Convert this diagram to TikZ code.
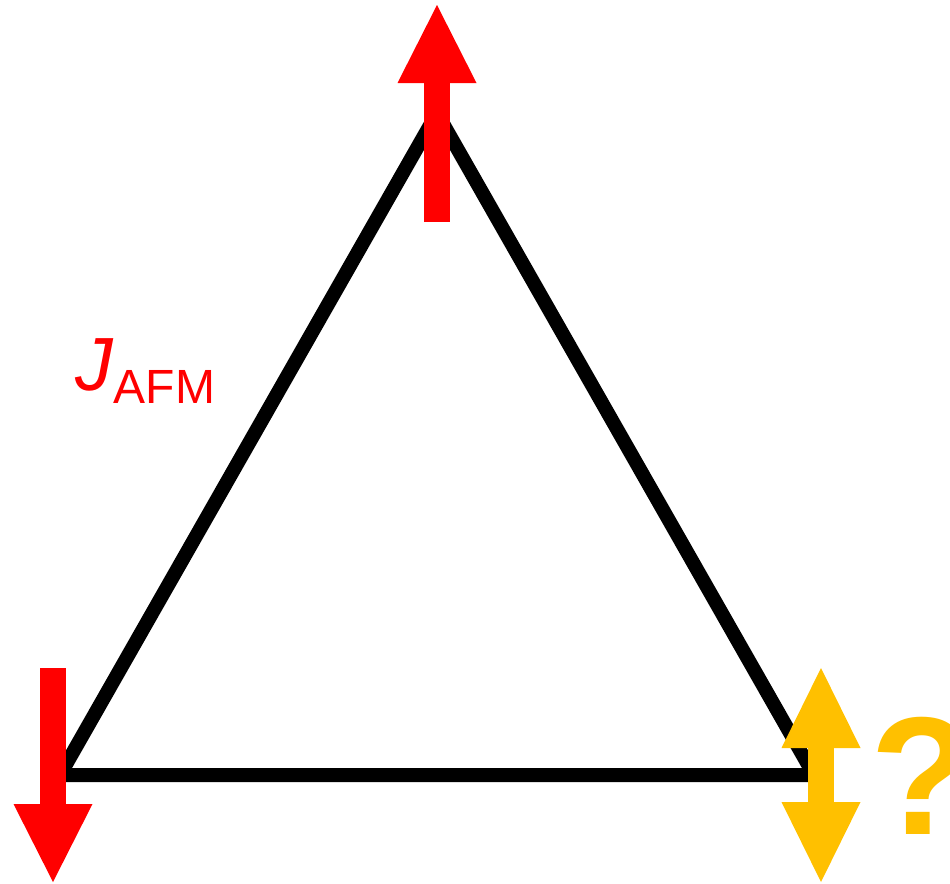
\documentclass[tikz,border=0pt]{standalone}
\usepackage{fontspec}
\setmainfont{Liberation Sans}
\usetikzlibrary{arrows.meta, calc}

\definecolor{spinred}{HTML}{FF0000}
\definecolor{spinamber}{HTML}{FFC000}

\begin{document}
\begin{tikzpicture}[
  x=0.5pt, y=-0.5pt,
  bond/.style={line width=7pt, black, line join=miter},
  spin/.style={line width=13pt, spinred,
    -{Triangle[length=39pt, width=39.5pt, line width=0pt]}},
  unknown/.style={line width=13pt, spinamber,
    {Triangle[length=40pt, width=39.5pt, line width=0pt]}-{Triangle[length=40pt, width=39.5pt, line width=0pt]}},
  coupling/.style={text=spinred, inner sep=0pt, anchor=base west},
  qmark/.style={text=spinamber, inner sep=0pt, anchor=base,
    font=\fontsize{84}{84}\selectfont\bfseries},
]
\useasboundingbox (0,0) rectangle (950,884);

% Lattice sites
\coordinate (siteL) at (60,775);
\coordinate (siteR) at (814,775);
\coordinate (siteT) at (437,113);

% Bonds
\draw[bond] (siteL) -- (siteR) -- (siteT) -- cycle;

% Spins
\draw[spin] ($(siteT)+(0,109)$) -- ($(siteT)+(0,-108)$);
\draw[spin] ($(siteL)+(-7,-107)$) -- ($(siteL)+(-7,107)$);
\draw[unknown] ($(siteR)+(7,-107)$) -- ($(siteR)+(7,107)$);

% Labels
\node[coupling] (jafm) at (75,390)
  {\fontsize{37.7}{40}\selectfont\textit{J}\raisebox{-6.5pt}{\fontsize{24}{24}\selectfont AFM}};
\node[qmark] (frust) at (922,834) {?};

\end{tikzpicture}
\end{document}
